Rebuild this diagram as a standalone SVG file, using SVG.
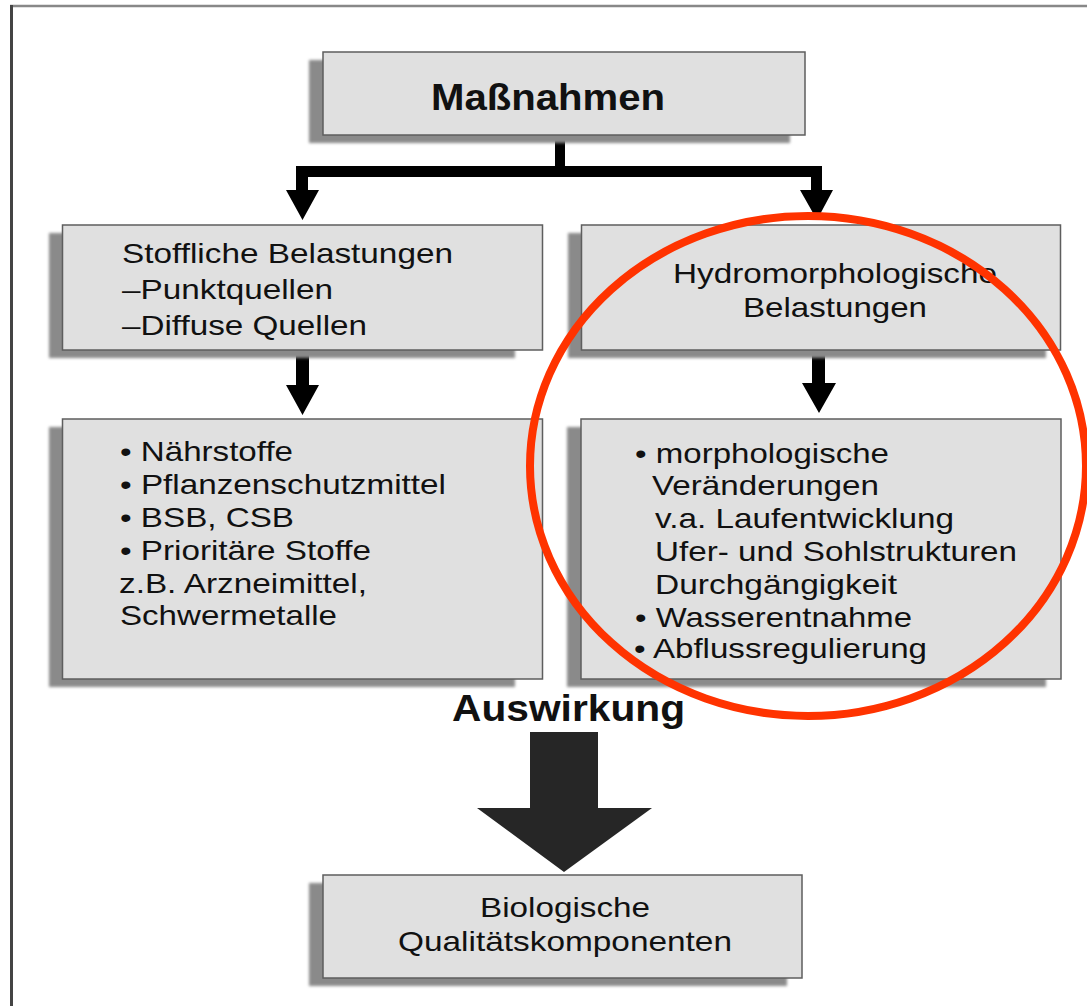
<svg xmlns="http://www.w3.org/2000/svg" width="1087" height="1006" viewBox="0 0 1087 1006">
<defs>
<filter id="blur" x="-10%" y="-10%" width="120%" height="130%"><feGaussianBlur stdDeviation="1.5"/></filter>
<style>
.box{fill:#e0e0e0;stroke:#5e5e5e;stroke-width:1.5}
.sh{fill:#8a8a8a;filter:url(#blur)}
.t{font-family:"Liberation Sans",Arial,sans-serif;font-size:28px;fill:#111}
.b{font-family:"Liberation Sans",Arial,sans-serif;font-size:36px;font-weight:bold;fill:#111}
.c{text-anchor:middle}
</style>
</defs>
<rect width="1087" height="1006" fill="#ffffff"/>
<g id="frame">
<line x1="10" y1="6" x2="1087" y2="6" stroke="#888" stroke-width="2.5"/>
<line x1="11.5" y1="5" x2="11.5" y2="1006" stroke="#444" stroke-width="3"/>
</g>

<g id="connectors">
<path d="M555,135 H565 V166 H822 V190 H833 L817,220 L800,190 H811 V177 H308 V190 H319 L302.5,220 L286,190 H296 V166 H555 Z" fill="#000"/>
<path d="M296,350 H309 V385 H319 L302.5,415 L286,385 H296 Z" fill="#000"/>
<path d="M812,350 H825 V383 H836 L819,413 L802,383 H812 Z" fill="#000"/>
<path d="M530,732 H598 V808 H652 L564,872 L477,808 H530 Z" fill="#262626"/>
</g>

<g id="massnahmen">
<rect class="sh" x="309" y="60" width="481" height="83"/>
<rect class="box" x="323" y="52" width="482" height="83"/>
<text class="b" x="431" y="110" textLength="234" lengthAdjust="spacingAndGlyphs">Maßnahmen</text>
</g>

<g id="stoffliche">
<rect class="sh" x="49" y="233" width="466" height="125"/>
<rect class="box" x="62.5" y="225" width="480" height="125"/>
<text class="t" x="122" y="263" textLength="331" lengthAdjust="spacingAndGlyphs">Stoffliche Belastungen</text>
<text class="t" x="122" y="299" textLength="211" lengthAdjust="spacingAndGlyphs">–Punktquellen</text>
<text class="t" x="122" y="335" textLength="245" lengthAdjust="spacingAndGlyphs">–Diffuse Quellen</text>
</g>

<g id="hydro">
<rect class="sh" x="568" y="233" width="478" height="125"/>
<rect class="box" x="581.5" y="225" width="479" height="125"/>
<text class="t c" x="835" y="283" textLength="324" lengthAdjust="spacingAndGlyphs">Hydromorphologische</text>
<text class="t c" x="835" y="317" textLength="184" lengthAdjust="spacingAndGlyphs">Belastungen</text>
</g>

<g id="stoffe">
<rect class="sh" x="49" y="427" width="466" height="260"/>
<rect class="box" x="62.5" y="419" width="480" height="260"/>
<text class="t" x="120" y="461" textLength="173" lengthAdjust="spacingAndGlyphs">• Nährstoffe</text>
<text class="t" x="120" y="494" textLength="326" lengthAdjust="spacingAndGlyphs">• Pflanzenschutzmittel</text>
<text class="t" x="120" y="527" textLength="174" lengthAdjust="spacingAndGlyphs">• BSB, CSB</text>
<text class="t" x="120" y="560" textLength="251" lengthAdjust="spacingAndGlyphs">• Prioritäre Stoffe</text>
<text class="t" x="119" y="593" textLength="248" lengthAdjust="spacingAndGlyphs">z.B. Arzneimittel,</text>
<text class="t" x="120" y="625" textLength="217" lengthAdjust="spacingAndGlyphs">Schwermetalle</text>
</g>

<g id="morpho">
<rect class="sh" x="567" y="427" width="479" height="260"/>
<rect class="box" x="581" y="419" width="480" height="260"/>
<text class="t" x="635" y="463" textLength="254" lengthAdjust="spacingAndGlyphs">• morphologische</text>
<text class="t" x="652" y="495" textLength="227" lengthAdjust="spacingAndGlyphs">Veränderungen</text>
<text class="t" x="655" y="528" textLength="299" lengthAdjust="spacingAndGlyphs">v.a. Laufentwicklung</text>
<text class="t" x="655" y="561" textLength="362" lengthAdjust="spacingAndGlyphs">Ufer- und Sohlstrukturen</text>
<text class="t" x="655" y="594" textLength="242" lengthAdjust="spacingAndGlyphs">Durchgängigkeit</text>
<text class="t" x="635" y="627" textLength="277" lengthAdjust="spacingAndGlyphs">• Wasserentnahme</text>
<text class="t" x="634" y="658" textLength="293" lengthAdjust="spacingAndGlyphs">• Abflussregulierung</text>
</g>

<g id="auswirkung">
<text class="b" x="452" y="721" textLength="233" lengthAdjust="spacingAndGlyphs">Auswirkung</text>
</g>

<g id="biologische">
<rect class="sh" x="309" y="883" width="478" height="103"/>
<rect class="box" x="323" y="875" width="479" height="103"/>
<text class="t c" x="565" y="917" textLength="170" lengthAdjust="spacingAndGlyphs">Biologische</text>
<text class="t c" x="565" y="951" textLength="334" lengthAdjust="spacingAndGlyphs">Qualitätskomponenten</text>
</g>

<g id="highlight">
<ellipse cx="808" cy="466" rx="278" ry="250" fill="none" stroke="#ff3300" stroke-width="8"/>
</g>
</svg>
